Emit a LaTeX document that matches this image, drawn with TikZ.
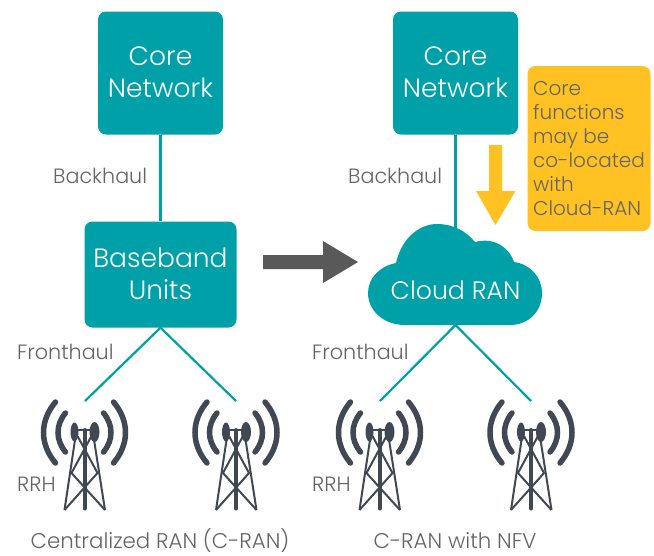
\documentclass[tikz,border=0pt]{standalone}
\usepackage{fontspec}
\setmainfont{Poppins}[UprightFont=* Light]
\usetikzlibrary{arrows.meta}

\definecolor{tealbox}{HTML}{00A0A8}
\definecolor{amberbox}{HTML}{FFC222}
\definecolor{greytext}{HTML}{646464}
\definecolor{towergrey}{HTML}{404854}
\definecolor{arrowgrey}{HTML}{595959}

\tikzset{
  netbox/.style={fill=tealbox, rounded corners=8pt, text=white, align=center, text depth=2pt, font=\fontsize{26.5}{32}\selectfont},
  linklabel/.style={text=greytext, inner sep=0pt, anchor=west, font=\fontsize{20.7}{24}\selectfont},
  caption/.style={text=greytext, inner sep=0pt, font=\fontsize{21.3}{24}\selectfont},
  netlink/.style={draw=tealbox, line width=2.2pt},
  towerline/.style={draw=towergrey, line width=2pt},
  towerwave/.style={draw=towergrey, line width=5.5pt, line cap=round},
  pics/rrhtower/.style={code={
    \draw[towerwave] (-29,-31) .. controls (-45,-12) and (-45,11) .. (-29,30);
    \draw[towerwave] (-19,-20) .. controls (-29,-8) and (-29,7) .. (-19,19);
    \draw[towerwave] (29,-31) .. controls (45,-12) and (45,11) .. (29,30);
    \draw[towerwave] (19,-20) .. controls (29,-8) and (29,7) .. (19,19);
    \fill[towergrey] (-10,-1) ellipse (4pt and 9.5pt);
    \fill[towergrey] (10,-1) ellipse (5pt and 10pt);
    \draw[towerline] (-10,-3) -- (10,-3);
    \draw[towerline] (-8,-3) -- (-20,77) (8,-3) -- (20.5,77);
    \draw[draw=towergrey, line width=4pt, line cap=round] (0,-3) -- (0,75.5);
    \draw[towerline] (-7,3) -- (13,40) -- (-20,77) (7,3) -- (-13,40) -- (20.5,77);
  }}
}

\begin{document}
\begin{tikzpicture}[x=1pt,y=-1pt]
  \useasboundingbox (0,0) rectangle (654,555);

  % Left side
  \node[netbox, minimum width=125pt, minimum height=123pt] (coreLeft) at (160.5,73) {Core\\Network};
  \node[netbox, minimum width=152pt, minimum height=106pt] (bbu) at (160.5,274.5) {Baseband\\Units};
  \coordinate (rrhLeftA) at (85,401);
  \coordinate (rrhLeftB) at (236,401);
  \draw[netlink] (coreLeft) -- (bbu);
  \draw[netlink] (bbu.south) -- (rrhLeftA);
  \draw[netlink] (bbu.south) -- (rrhLeftB);
  \pic at (84.5,433) {rrhtower};
  \pic at (236,433) {rrhtower};

  % Right side
  \node[netbox, minimum width=125pt, minimum height=123pt] (coreRight) at (455.5,73) {Core\\Network};
  \coordinate (cloudTop) at (455.5,228);
  \coordinate (cloudBottom) at (455.5,325);
  \coordinate (rrhRightA) at (380,401);
  \coordinate (rrhRightB) at (531,401);
  \draw[netlink] (coreRight) -- (cloudTop);
  \draw[netlink] (cloudBottom) -- (rrhRightA);
  \draw[netlink] (cloudBottom) -- (rrhRightB);
  \fill[tealbox]
    (396,263)
    .. controls (401,240) and (418,224) .. (437,224)
    .. controls (453,224) and (466,231) .. (475,242)
    .. controls (494,237) and (509,247) .. (514,262)
    .. controls (530,264) and (542,277) .. (542,293)
    .. controls (542,312) and (528,325) .. (510,325)
    -- (405,325)
    .. controls (384,325) and (368,311) .. (368,293)
    .. controls (368,278) and (380,266) .. (396,263)
    -- cycle;
  \node[text=white, font=\fontsize{25.2}{26}\selectfont] (cloud) at (455.5,290) {Cloud RAN};
  \pic at (379.5,433) {rrhtower};
  \pic at (531,433) {rrhtower};

  % Arrows
  \fill[arrowgrey] (263,255) -- (323,255) -- (323,241) -- (358,262) -- (323,283) -- (323,269) -- (263,269) -- cycle;
  \fill[amberbox] (489,145) -- (502,145) -- (502,191) -- (515.5,191) -- (495.5,225) -- (476,191) -- (489,191) -- cycle;

  % Note
  \node[fill=amberbox, rounded corners=8pt, minimum width=123pt, minimum height=165pt, text=greytext, inner sep=0pt, align=left, font=\fontsize{20}{24}\selectfont] (note) at (589,148.5) {Core\\functions\\may be\\co-located\\with\\Cloud-RAN};

  % Labels
  \node[linklabel] (backhaulLeft) at (53,176) {Backhaul};
  \node[linklabel] (backhaulRight) at (348,176) {Backhaul};
  \node[linklabel] (fronthaulLeft) at (17,352) {Fronthaul};
  \node[linklabel] (fronthaulRight) at (312,352) {Fronthaul};
  \node[linklabel] (rrhLeft) at (17,484) {RRH};
  \node[linklabel] (rrhRight) at (312,484) {RRH};
  \node[caption] (captionLeft) at (160,541) {Centralized RAN (C-RAN)};
  \node[caption] (captionRight) at (455,541) {C-RAN with NFV};
\end{tikzpicture}
\end{document}
